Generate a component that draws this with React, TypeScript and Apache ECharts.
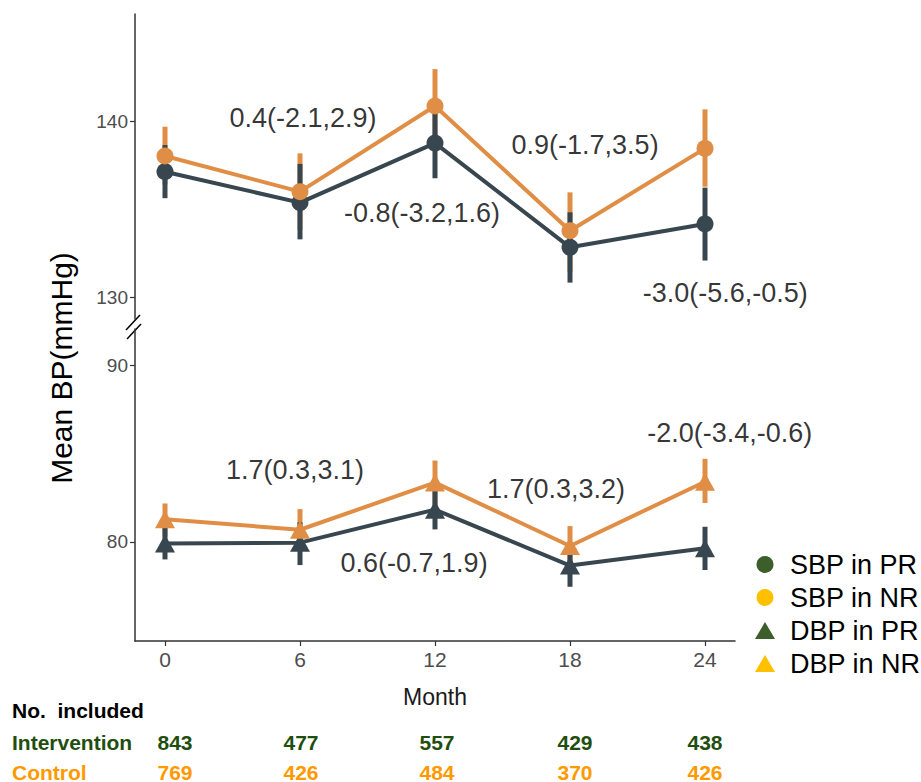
import React, { useEffect, useRef } from "react";
import * as echarts from "echarts";

// ---------- data ----------
const months = [0, 6, 12, 18, 24];
const monthTicks = [0, 6, 12, 18, 24];
const topTicks = [130, 140];
const bottomTicks = [80, 90];

const sbpPR = [137.13, 135.38, 138.75, 132.85, 134.17];
const sbpPRLow = [135.63, 133.3, 136.76, 130.85, 132.1];
const sbpPRHigh = [138.64, 137.57, 140.45, 134.83, 136.23];

const sbpNR = [138.02, 136.0, 140.85, 133.79, 138.45];
const sbpNRLow = [136.4, 133.83, 138.75, 131.47, 136.28];
const sbpNRHigh = [139.68, 138.17, 142.94, 135.96, 140.66];

const dbpPR = [79.9, 79.95, 81.82, 78.65, 79.63];
const dbpPRLow = [79.0, 78.68, 80.7, 77.45, 78.4];
const dbpPRHigh = [80.9, 81.1, 83.0, 79.9, 80.85];

const dbpNR = [81.27, 80.68, 83.35, 79.76, 83.4];
const dbpNRLow = [80.3, 79.5, 82.1, 78.6, 82.2];
const dbpNRHigh = [82.17, 81.85, 84.6, 80.89, 84.7];

const sbpDiffLabels = ["0.4(-2.1,2.9)", "-0.8(-3.2,1.6)", "0.9(-1.7,3.5)", "-3.0(-5.6,-0.5)"];
const dbpDiffLabels = ["1.7(0.3,3.1)", "0.6(-0.7,1.9)", "1.7(0.3,3.2)", "-2.0(-3.4,-0.6)"];

const legendNames = ["SBP in PR", "SBP in NR", "DBP in PR", "DBP in NR"];
const tableTitle = "No.  included";
const tableGroups = ["Intervention", "Control"];
const interventionN = [843, 477, 557, 429, 438];
const controlN = [769, 426, 484, 370, 426];

// ---------- layout (positions in data coordinates for annotations) ----------
const sbpLabelPos = [[6.13, 140.17], [11.42, 134.8], [18.67, 138.64], [24.9, 130.27]];
const dbpLabelPos = [[5.78, 84.06], [11.07, 78.8], [17.38, 83.0], [25.1, 86.15]];
const tableColX = [175, 301, 437, 575, 705];

const ORANGE = "#E08E45";
const SLATE = "#38474F";
const FONT = "'Liberation Sans', Arial, Helvetica, sans-serif";

function zip(a: number[], b: number[], c?: number[]) {
  return a.map((v, i) => (c ? [v, b[i], c[i]] : [v, b[i]]));
}

function errorSeries(name: string, xIdx: number, lo: number[], hi: number[], color: string, z: number) {
  return {
    type: "custom",
    name,
    xAxisIndex: xIdx,
    yAxisIndex: xIdx,
    z,
    silent: true,
    data: zip(months, lo, hi),
    encode: { x: 0, y: [1, 2] },
    renderItem: (params: any, api: any) => {
      const x = api.value(0);
      const p1 = api.coord([x, api.value(1)]);
      const p2 = api.coord([x, api.value(2)]);
      return {
        type: "line",
        shape: { x1: p1[0], y1: p1[1], x2: p2[0], y2: p2[1] },
        style: { stroke: color, lineWidth: 5 },
      };
    },
  };
}

function lineSeries(name: string, idx: number, vals: number[], color: string, symbol: string, size: any, z: number) {
  return {
    type: "line",
    name,
    xAxisIndex: idx,
    yAxisIndex: idx,
    z,
    data: zip(months, vals),
    symbol,
    symbolSize: size,
    showSymbol: true,
    lineStyle: { color, width: 4 },
    itemStyle: { color, opacity: 1 },
    silent: true,
  };
}

function labelSeries(idx: number, texts: string[], pos: number[][]) {
  return {
    type: "scatter",
    xAxisIndex: idx,
    yAxisIndex: idx,
    symbolSize: 0,
    clip: false,
    silent: true,
    z: 10,
    data: texts.map((t, i) => ({ name: t, value: pos[i] })),
    label: {
      show: true,
      position: "inside",
      formatter: "{b}",
      color: "#000",
      fontSize: 27,
      fontFamily: FONT,
    },
  };
}

export default function App() {
  const ref = useRef<HTMLDivElement>(null);
  useEffect(() => {
    if (!ref.current) return;
    const chart = echarts.init(ref.current, undefined, { renderer: "svg" });

    const axisLineStyle = { color: "#333333", width: 1.5 };
    const yAxisCommon = (min: number, max: number, ticks: number[]) => ({
      type: "value",
      min,
      max,
      axisLine: { show: true, onZero: false, lineStyle: axisLineStyle },
      axisTick: { show: true, length: 5, customValues: ticks, lineStyle: { color: "#333", width: 1.2 } },
      axisLabel: { customValues: ticks, color: "#4D4D4D", fontSize: 19, fontFamily: FONT, margin: 7 },
      splitLine: { show: false },
    });

    const legendColors = ["#3B5E2B", "#FFC000", "#3B5E2B", "#FFC000"];
    const legendIcons = ["circle", "circle", "triangle", "triangle"];

    const tableGraphics: any[] = [];
    tableGraphics.push({
      type: "text",
      x: 12,
      y: 710,
      style: { text: tableTitle, fill: "#000", font: `bold 21px ${FONT}`, textAlign: "left", textVerticalAlign: "middle" },
    });
    const groupColors = ["#1F4E0F", "#FF9900"];
    const groupY = [742, 772];
    const groupVals = [interventionN, controlN];
    tableGroups.forEach((g, gi) => {
      tableGraphics.push({
        type: "text",
        x: 12,
        y: groupY[gi],
        style: { text: g, fill: groupColors[gi], font: `bold 21px ${FONT}`, textAlign: "left", textVerticalAlign: "middle" },
      });
      groupVals[gi].forEach((v, i) => {
        tableGraphics.push({
          type: "text",
          x: tableColX[i],
          y: groupY[gi],
          style: { text: String(v), fill: groupColors[gi], font: `bold 21px ${FONT}`, textAlign: "center", textVerticalAlign: "middle" },
        });
      });
    });

    const option: any = {
      animation: false,
      backgroundColor: "#ffffff",
      textStyle: { fontFamily: FONT },
      grid: [
        { left: 135, right: 186, top: 14, height: 305 },
        { left: 135, right: 186, top: 329, height: 312 },
      ],
      xAxis: [
        { type: "value", gridIndex: 0, min: -1.333, max: 25.333, show: false },
        {
          type: "value",
          gridIndex: 1,
          min: -1.333,
          max: 25.333,
          axisLine: { show: true, onZero: false, lineStyle: axisLineStyle },
          axisTick: { show: true, length: 5, customValues: monthTicks, lineStyle: { color: "#333", width: 1.2 } },
          axisLabel: { customValues: monthTicks, color: "#4D4D4D", fontSize: 21, fontFamily: FONT, margin: 8 },
          splitLine: { show: false },
          name: "Month",
          nameLocation: "middle",
          nameGap: 44,
          nameTextStyle: { color: "#1a1a1a", fontSize: 23, fontFamily: FONT },
        },
      ],
      yAxis: [
        { gridIndex: 0, ...yAxisCommon(128.79, 146.06, topTicks) },
        { gridIndex: 1, ...yAxisCommon(74.38, 92.05, bottomTicks) },
      ],
      legend: {
        orient: "vertical",
        left: 750,
        top: 546,
        itemWidth: 20,
        itemHeight: 17,
        itemGap: 6,
        selectedMode: false,
        textStyle: { color: "#000", fontSize: 27, fontFamily: FONT, padding: [0, 0, 0, 10] },
        data: legendNames.map((n, i) => ({ name: n, icon: legendIcons[i] })),
      },
      series: [
        ...legendNames.map((n, i) => ({
          type: "scatter",
          name: n,
          xAxisIndex: 0,
          yAxisIndex: 0,
          data: [],
          itemStyle: { color: legendColors[i], opacity: 1 },
        })),
        errorSeries("sbpNRerr", 0, sbpNRLow, sbpNRHigh, ORANGE, 1),
        errorSeries("sbpPRerr", 0, sbpPRLow, sbpPRHigh, SLATE, 2),
        lineSeries("sbpPRline", 0, sbpPR, SLATE, "circle", 17, 3),
        lineSeries("sbpNRline", 0, sbpNR, ORANGE, "circle", 17, 4),
        errorSeries("dbpNRerr", 1, dbpNRLow, dbpNRHigh, ORANGE, 1),
        errorSeries("dbpPRerr", 1, dbpPRLow, dbpPRHigh, SLATE, 2),
        lineSeries("dbpPRline", 1, dbpPR, SLATE, "triangle", [20, 18], 3),
        lineSeries("dbpNRline", 1, dbpNR, ORANGE, "triangle", [20, 18], 4),
        labelSeries(0, sbpDiffLabels, sbpLabelPos),
        labelSeries(1, dbpDiffLabels, dbpLabelPos),
      ],
      graphic: [
        {
          type: "text",
          x: 61,
          y: 368,
          rotation: Math.PI / 2,
          style: { text: "Mean BP(mmHg)", fill: "#000", font: `30px ${FONT}`, textAlign: "center", textVerticalAlign: "middle" },
        },
        { type: "line", shape: { x1: 126, y1: 330, x2: 140, y2: 315 }, style: { stroke: "#000", lineWidth: 1.5 } },
        { type: "line", shape: { x1: 127, y1: 339, x2: 141, y2: 324 }, style: { stroke: "#000", lineWidth: 1.5 } },
        ...tableGraphics,
      ],
    };
    chart.setOption(option);
    return () => chart.dispose();
  }, []);
  return <div ref={ref} style={{ width: 921, height: 782, position: "absolute", left: 0, top: 0 }} />;
}
